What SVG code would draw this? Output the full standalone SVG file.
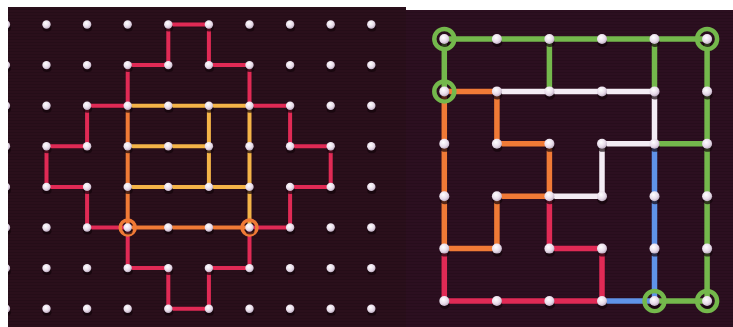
<svg xmlns="http://www.w3.org/2000/svg" xmlns:xlink="http://www.w3.org/1999/xlink" width="733" height="327" viewBox="0 0 733 327">
  <defs>
    <radialGradient id="pegGrad" cx="0.4" cy="0.35" r="0.7">
      <stop offset="0" stop-color="#ffffff"/>
      <stop offset="0.6" stop-color="#e8dcea"/>
      <stop offset="1" stop-color="#b7a6bb"/>
    </radialGradient>
    <pattern id="grain" width="8" height="3" patternUnits="userSpaceOnUse">
      <rect width="8" height="1" fill="#000000" opacity="0.12"/>
    </pattern>
    <clipPath id="clipL"><rect x="8" y="7" width="398" height="320"/></clipPath>
    <clipPath id="clipR"><rect x="406" y="10" width="327" height="317"/></clipPath>
    <g id="pegS">
      <ellipse cx="0.5" cy="3.5" rx="4.5" ry="3.5" fill="#12040a" opacity="0.7"/>
      <circle r="4.2" fill="url(#pegGrad)"/>
    </g>
    <g id="pegL">
      <ellipse cx="0.5" cy="4" rx="5" ry="4" fill="#12040a" opacity="0.7"/>
      <circle r="5" fill="url(#pegGrad)"/>
    </g>
  </defs>
  <style>
    .ln { fill: none; stroke-linecap: round; stroke-linejoin: round; }
    .l4 { stroke-width: 4; }
    .l6 { stroke-width: 5.5; }
    .red { stroke: #e02a55; }
    .orange { stroke: #f07a36; }
    .yellow { stroke: #f4b448; }
    .green { stroke: #74b84c; }
    .white { stroke: #f3ecf4; }
    .blue { stroke: #5f93e8; }
    .ringO { fill: none; stroke: #f07a36; stroke-width: 3.5; }
    .ringG { fill: none; stroke: #74b84c; stroke-width: 4.5; }
  </style>

  <rect width="733" height="327" fill="#ffffff"/>

  <!-- Left panel -->
  <g id="left-panel" clip-path="url(#clipL)">
    <rect x="8" y="7" width="398" height="320" fill="#2a0f1b"/>
    <rect x="8" y="7" width="398" height="320" fill="url(#grain)"/>
    <g id="left-connectors">
      <polyline class="ln l4 yellow" points="127.7,105.7 249.5,105.7 249.5,227.5"/>
      <line class="ln l4 yellow" x1="127.7" y1="186.9" x2="249.5" y2="186.9"/>
      <line class="ln l4 yellow" x1="127.7" y1="146.3" x2="208.9" y2="146.3"/>
      <line class="ln l4 yellow" x1="208.9" y1="105.7" x2="208.9" y2="186.9"/>
      <polygon class="ln l4 red" points="168.3,24.5 208.9,24.5 208.9,65.1 249.5,65.1 249.5,105.7 290.1,105.7 290.1,146.3 330.7,146.3 330.7,186.9 290.1,186.9 290.1,227.5 249.5,227.5 249.5,268.1 208.9,268.1 208.9,308.7 168.3,308.7 168.3,268.1 127.7,268.1 127.7,227.5 87.1,227.5 87.1,186.9 46.5,186.9 46.5,146.3 87.1,146.3 87.1,105.7 127.7,105.7 127.7,65.1 168.3,65.1"/>
      <polyline class="ln l4 orange" points="127.7,105.7 127.7,227.5 249.5,227.5"/>
      <circle class="ringO" cx="127.7" cy="227.5" r="7.5"/>
      <circle class="ringO" cx="249.5" cy="227.5" r="7.5"/>
    </g>
    <g id="left-pegs">
      <g id="lrow0"><use href="#pegS" x="5.9" y="24.5"/><use href="#pegS" x="46.5" y="24.5"/><use href="#pegS" x="87.1" y="24.5"/><use href="#pegS" x="127.7" y="24.5"/><use href="#pegS" x="168.3" y="24.5"/><use href="#pegS" x="208.9" y="24.5"/><use href="#pegS" x="249.5" y="24.5"/><use href="#pegS" x="290.1" y="24.5"/><use href="#pegS" x="330.7" y="24.5"/><use href="#pegS" x="371.3" y="24.5"/></g>
      <g id="lrow1"><use href="#pegS" x="5.9" y="65.1"/><use href="#pegS" x="46.5" y="65.1"/><use href="#pegS" x="87.1" y="65.1"/><use href="#pegS" x="127.7" y="65.1"/><use href="#pegS" x="168.3" y="65.1"/><use href="#pegS" x="208.9" y="65.1"/><use href="#pegS" x="249.5" y="65.1"/><use href="#pegS" x="290.1" y="65.1"/><use href="#pegS" x="330.7" y="65.1"/><use href="#pegS" x="371.3" y="65.1"/></g>
      <g id="lrow2"><use href="#pegS" x="5.9" y="105.7"/><use href="#pegS" x="46.5" y="105.7"/><use href="#pegS" x="87.1" y="105.7"/><use href="#pegS" x="127.7" y="105.7"/><use href="#pegS" x="168.3" y="105.7"/><use href="#pegS" x="208.9" y="105.7"/><use href="#pegS" x="249.5" y="105.7"/><use href="#pegS" x="290.1" y="105.7"/><use href="#pegS" x="330.7" y="105.7"/><use href="#pegS" x="371.3" y="105.7"/></g>
      <g id="lrow3"><use href="#pegS" x="5.9" y="146.3"/><use href="#pegS" x="46.5" y="146.3"/><use href="#pegS" x="87.1" y="146.3"/><use href="#pegS" x="127.7" y="146.3"/><use href="#pegS" x="168.3" y="146.3"/><use href="#pegS" x="208.9" y="146.3"/><use href="#pegS" x="249.5" y="146.3"/><use href="#pegS" x="290.1" y="146.3"/><use href="#pegS" x="330.7" y="146.3"/><use href="#pegS" x="371.3" y="146.3"/></g>
      <g id="lrow4"><use href="#pegS" x="5.9" y="186.9"/><use href="#pegS" x="46.5" y="186.9"/><use href="#pegS" x="87.1" y="186.9"/><use href="#pegS" x="127.7" y="186.9"/><use href="#pegS" x="168.3" y="186.9"/><use href="#pegS" x="208.9" y="186.9"/><use href="#pegS" x="249.5" y="186.9"/><use href="#pegS" x="290.1" y="186.9"/><use href="#pegS" x="330.7" y="186.9"/><use href="#pegS" x="371.3" y="186.9"/></g>
      <g id="lrow5"><use href="#pegS" x="5.9" y="227.5"/><use href="#pegS" x="46.5" y="227.5"/><use href="#pegS" x="87.1" y="227.5"/><use href="#pegS" x="127.7" y="227.5"/><use href="#pegS" x="168.3" y="227.5"/><use href="#pegS" x="208.9" y="227.5"/><use href="#pegS" x="249.5" y="227.5"/><use href="#pegS" x="290.1" y="227.5"/><use href="#pegS" x="330.7" y="227.5"/><use href="#pegS" x="371.3" y="227.5"/></g>
      <g id="lrow6"><use href="#pegS" x="5.9" y="268.1"/><use href="#pegS" x="46.5" y="268.1"/><use href="#pegS" x="87.1" y="268.1"/><use href="#pegS" x="127.7" y="268.1"/><use href="#pegS" x="168.3" y="268.1"/><use href="#pegS" x="208.9" y="268.1"/><use href="#pegS" x="249.5" y="268.1"/><use href="#pegS" x="290.1" y="268.1"/><use href="#pegS" x="330.7" y="268.1"/><use href="#pegS" x="371.3" y="268.1"/></g>
      <g id="lrow7"><use href="#pegS" x="5.9" y="308.7"/><use href="#pegS" x="46.5" y="308.7"/><use href="#pegS" x="87.1" y="308.7"/><use href="#pegS" x="127.7" y="308.7"/><use href="#pegS" x="168.3" y="308.7"/><use href="#pegS" x="208.9" y="308.7"/><use href="#pegS" x="249.5" y="308.7"/><use href="#pegS" x="290.1" y="308.7"/><use href="#pegS" x="330.7" y="308.7"/><use href="#pegS" x="371.3" y="308.7"/></g>
    </g>
  </g>

  <!-- Right panel -->
  <g id="right-panel" clip-path="url(#clipR)">
    <rect x="406" y="10" width="327" height="317" fill="#2c0f20"/>
    <rect x="406" y="10" width="327" height="317" fill="url(#grain)"/>
    <g id="right-connectors">
      <polygon class="ln l6 orange" points="444.3,91.4 496.9,91.4 496.9,143.8 549.4,143.8 549.4,196.2 496.9,196.2 496.9,248.6 444.3,248.6"/>
      <polyline class="ln l6 red" points="444.3,248.6 444.3,301 602,301 602,248.6 549.4,248.6 549.4,196.2"/>
      <polyline class="ln l6 white" points="496.9,91.4 654.5,91.4 654.5,143.8 602,143.8 602,196.2 549.4,196.2"/>
      <polyline class="ln l6 blue" points="654.5,143.8 654.5,301 602,301"/>
      <polyline class="ln l6 green" points="444.3,91.4 444.3,39 707.1,39 707.1,301 654.5,301"/>
      <line class="ln l6 green" x1="549.4" y1="39" x2="549.4" y2="91.4"/>
      <line class="ln l6 green" x1="654.5" y1="39" x2="654.5" y2="91.4"/>
      <line class="ln l6 green" x1="654.5" y1="143.8" x2="707.1" y2="143.8"/>
      <circle class="ringG" cx="444.3" cy="39" r="10"/>
      <circle class="ringG" cx="707.1" cy="39" r="10"/>
      <circle class="ringG" cx="444.3" cy="91.4" r="10"/>
      <circle class="ringG" cx="654.5" cy="301" r="10"/>
      <circle class="ringG" cx="707.1" cy="301" r="10"/>
    </g>
    <g id="right-pegs">
      <g id="rrow0"><use href="#pegL" x="444.3" y="39"/><use href="#pegL" x="496.9" y="39"/><use href="#pegL" x="549.4" y="39"/><use href="#pegL" x="602" y="39"/><use href="#pegL" x="654.5" y="39"/><use href="#pegL" x="707.1" y="39"/></g>
      <g id="rrow1"><use href="#pegL" x="444.3" y="91.4"/><use href="#pegL" x="496.9" y="91.4"/><use href="#pegL" x="549.4" y="91.4"/><use href="#pegL" x="602" y="91.4"/><use href="#pegL" x="654.5" y="91.4"/><use href="#pegL" x="707.1" y="91.4"/></g>
      <g id="rrow2"><use href="#pegL" x="444.3" y="143.8"/><use href="#pegL" x="496.9" y="143.8"/><use href="#pegL" x="549.4" y="143.8"/><use href="#pegL" x="602" y="143.8"/><use href="#pegL" x="654.5" y="143.8"/><use href="#pegL" x="707.1" y="143.8"/></g>
      <g id="rrow3"><use href="#pegL" x="444.3" y="196.2"/><use href="#pegL" x="496.9" y="196.2"/><use href="#pegL" x="549.4" y="196.2"/><use href="#pegL" x="602" y="196.2"/><use href="#pegL" x="654.5" y="196.2"/><use href="#pegL" x="707.1" y="196.2"/></g>
      <g id="rrow4"><use href="#pegL" x="444.3" y="248.6"/><use href="#pegL" x="496.9" y="248.6"/><use href="#pegL" x="549.4" y="248.6"/><use href="#pegL" x="602" y="248.6"/><use href="#pegL" x="654.5" y="248.6"/><use href="#pegL" x="707.1" y="248.6"/></g>
      <g id="rrow5"><use href="#pegL" x="444.3" y="301"/><use href="#pegL" x="496.9" y="301"/><use href="#pegL" x="549.4" y="301"/><use href="#pegL" x="602" y="301"/><use href="#pegL" x="654.5" y="301"/><use href="#pegL" x="707.1" y="301"/></g>
    </g>
  </g>
</svg>
